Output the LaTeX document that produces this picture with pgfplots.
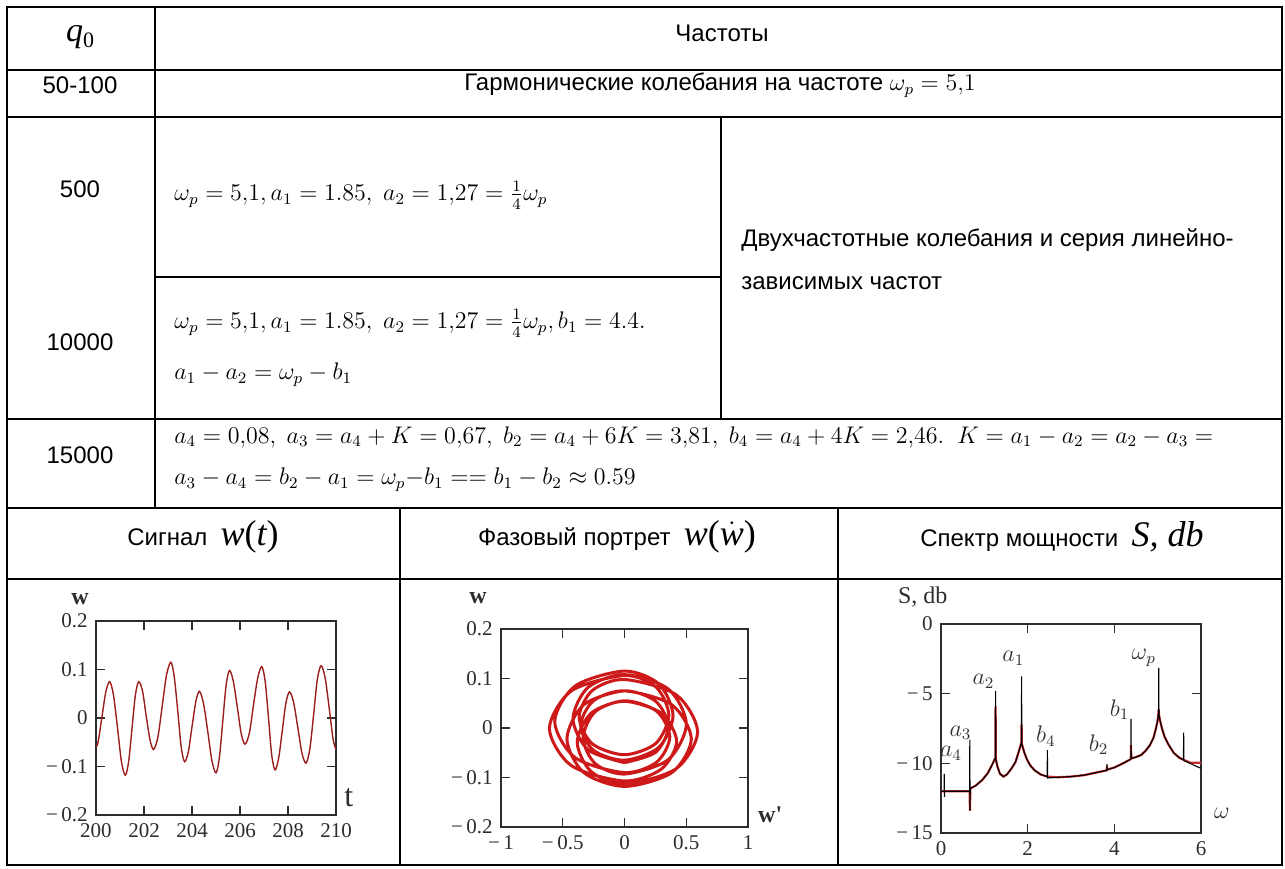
\documentclass[border=0pt]{standalone}
\usepackage{amsmath}
\usepackage{fontspec}
\setmainfont{Liberation Sans}
\newfontfamily\tnr{Liberation Serif}
\usepackage{pgfplots}
\pgfplotsset{compat=1.18}
\definecolor{sigred}{RGB}{155,30,30}
\definecolor{phred}{RGB}{205,25,25}
\definecolor{spred}{RGB}{200,45,45}
\definecolor{axgray}{RGB}{45,45,45}
\pgfplotsset{
  mcad/.style={
    scale only axis,
    clip mode=individual,
    axis line style={line width=0.6pt, axgray},
    tick style={line width=0.6pt, axgray},
    tick align=inside,
    xtick pos=both, ytick pos=both,
    major tick length=4.5pt,
    ticklabel style={font=\tnr\fontsize{10.5}{10.5}\selectfont, text=axgray},
  }
}
\newcommand{\hdrsize}{\fontsize{18}{18}\selectfont}
\begin{document}
\fontsize{12}{14}\selectfont
\begin{tikzpicture}
\begin{scope}[x=0.5pt, y=-0.5pt]
  \path[use as bounding box] (0,0) rectangle (1285,868);
  % table frame and rules
  \begin{scope}[line width=0.7pt]
    \draw (7,7) rectangle (1282,865);
    \draw (7,70) -- (1282,70);
    \draw (7,117) -- (1282,117);
    \draw (155,277) -- (721,277);
    \draw (7,419) -- (1282,419);
    \draw (7,508) -- (1282,508);
    \draw (7,579) -- (1282,579);
    \draw (155,7) -- (155,508);
    \draw (721,117) -- (721,419);
    \draw (400,508) -- (400,865);
    \draw (838,508) -- (838,865);
  \end{scope}
  % first column
  \node at (80,37) {{\tnr\itshape\fontsize{17}{17}\selectfont q}\raisebox{-3pt}{\tnr\fontsize{11}{11}\selectfont 0}};
  \node at (80,85) {50-100};
  \node at (80,189) {500};
  \node at (80,342) {10000};
  \node at (80,455) {15000};
  % right part
  \node at (722,33) {Частоты};
  \node at (720,85) {Гармонические колебания на частоте $\omega_p = 5{,}1$};
  \node[anchor=west] at (166,195) {$\omega_p = 5{,}1, a_1 = 1.85,\ a_2 = 1{,}27 = \tfrac{1}{4}\omega_p$};
  \node[anchor=west] at (733,240) {Двухчастотные колебания и серия линейно-};
  \node[anchor=west] at (733,283) {зависимых частот};
  \node[anchor=west] at (166,323) {$\omega_p = 5{,}1, a_1 = 1.85,\ a_2 = 1{,}27 = \tfrac{1}{4}\omega_p, b_1 = 4.4.$};
  \node[anchor=west] at (166,375) {$a_1 - a_2 = \omega_p - b_1$};
  \node[anchor=west] at (166,437) {\fontsize{11.8}{14}\selectfont$a_4 = 0{,}08,\ a_3 = a_4 + K = 0{,}67,\ b_2 = a_4 + 6K = 3{,}81,\ b_4 = a_4 + 4K = 2{,}46.\ \ K = a_1 - a_2 = a_2 - a_3 =$};
  \node[anchor=west] at (166,480) {\fontsize{11.8}{14}\selectfont$a_3 - a_4 = b_2 - a_1 = \omega_p{-}b_1 \mathrel{==} b_1 - b_2 \approx 0.59$};
  % plot headers
  \node at (203,537) {Сигнал\ \ {\tnr\hdrsize\itshape w\upshape(\itshape t\upshape)}};
  \node at (617,537) {Фазовый портрет\ \ {\tnr\hdrsize\itshape w\upshape($\dot{\mbox{\tnr\itshape w}}$)}};
  \node at (1062,537) {Спектр мощности\ \ {\tnr\hdrsize\itshape S, db}};
  \coordinate (A1) at (96,815);
  \coordinate (A2) at (501,827);
  \coordinate (A3) at (941,833);
\end{scope}

% signal w(t)
\begin{axis}[mcad, at={(A1)}, anchor=south west, width=120pt, height=97pt,
  xmin=200, xmax=210, ymin=-0.2, ymax=0.2,
  xtick={200,202,204,206,208,210}, xticklabels={200,202,204,206,208,210},
  ytick={-0.2,-0.1,0,0.1,0.2}, yticklabels={−\,0.2,−\,0.1,0,0.1,0.2}]
\addplot[sigred, line width=0.7pt, smooth] coordinates {
(200.00,-0.060) (200.09,-0.049) (200.25,0.003) (200.41,0.054) (200.57,0.075)
(200.73,0.047) (200.90,-0.022) (201.06,-0.090) (201.22,-0.118)
(201.36,-0.090) (201.50,-0.022) (201.64,0.047) (201.78,0.075)
(201.94,0.055) (202.09,0.005) (202.25,-0.045) (202.40,-0.065)
(202.58,-0.039) (202.76,0.025) (202.94,0.089) (203.12,0.115)
(203.26,0.085) (203.41,0.013) (203.55,-0.060) (203.69,-0.090)
(203.85,-0.069) (204.00,-0.018) (204.16,0.034) (204.31,0.055)
(204.48,0.030) (204.66,-0.029) (204.83,-0.088) (205.00,-0.113)
(205.14,-0.082) (205.28,-0.008) (205.42,0.067) (205.56,0.098)
(205.72,0.076) (205.89,0.022) (206.05,-0.032) (206.21,-0.054)
(206.39,-0.031) (206.56,0.026) (206.74,0.083) (206.91,0.106)
(207.05,0.075) (207.19,-0.001) (207.32,-0.076) (207.46,-0.107)
(207.61,-0.083) (207.76,-0.027) (207.91,0.030) (208.06,0.054)
(208.23,0.033) (208.41,-0.020) (208.58,-0.072) (208.75,-0.093)
(208.91,-0.064) (209.07,0.008) (209.22,0.079) (209.38,0.108)
(209.55,0.082) (209.72,0.019) (209.88,-0.044) (210.00,-0.065)
};
\node[font=\tnr\fontsize{12}{12}\selectfont\bfseries, text=axgray] at (rel axis cs:-0.067,1.115) {w};
\node[font=\tnr\fontsize{16}{16}\selectfont, anchor=west, text=axgray] at (rel axis cs:1.0,0.09) {t};
\end{axis}

% phase portrait
\begin{axis}[mcad, at={(A2)}, anchor=south west, width=123.5pt, height=99pt,
  xmin=-1, xmax=1, ymin=-0.2, ymax=0.2,
  xtick={-1,-0.5,0,0.5,1}, xticklabels={−\,1,−\,0.5,0,0.5,1},
  ytick={-0.2,-0.1,0,0.1,0.2}, yticklabels={−\,0.2,−\,0.1,0,0.1,0.2}]
\addplot[phred, line width=1.5pt, smooth] coordinates {
(0,-0.070) (0.252,-0.049) (0.356,0.003) (0.252,0.054)
(0,0.075) (-0.330,0.047) (-0.466,-0.022) (-0.330,-0.090)
(0,-0.118) (0.383,-0.090) (0.541,-0.022) (0.383,0.047)
(0,0.075) (-0.251,0.055) (-0.355,0.005) (-0.251,-0.045)
(0,-0.065) (0.278,-0.039) (0.393,0.025) (0.278,0.089)
(0,0.115) (-0.399,0.085) (-0.565,0.013) (-0.399,-0.060)
(0,-0.090) (0.260,-0.069) (0.367,-0.018) (0.260,0.034)
(0,0.055) (-0.270,0.030) (-0.383,-0.029) (-0.270,-0.088)
(0,-0.113) (0.419,-0.082) (0.592,-0.008) (0.419,0.067)
(0,0.098) (-0.260,0.076) (-0.367,0.022) (-0.260,-0.032)
(0,-0.054) (0.254,-0.031) (0.359,0.026) (0.254,0.083)
(0,0.106) (-0.430,0.075) (-0.608,-0.001) (-0.430,-0.076)
(0,-0.107) (0.298,-0.083) (0.422,-0.027) (0.298,0.030)
(0,0.054) (-0.237,0.033) (-0.335,-0.020) (-0.237,-0.072)
(0,-0.093) (0.354,-0.064) (0.501,0.008) (0.354,0.079)
(0,0.108) (-0.295,0.082) (-0.417,0.019) (-0.295,-0.044)
(0,-0.070)
};
\node[font=\tnr\fontsize{12}{12}\selectfont\bfseries, text=axgray] at (rel axis cs:-0.093,1.155) {w};
\node[font=\tnr\fontsize{12}{12}\selectfont\bfseries, text=axgray] at (rel axis cs:1.09,0.06) {w'};
\end{axis}

% power spectrum
\begin{axis}[mcad, at={(A3)}, anchor=south west, width=130pt, height=104.5pt,
  xmin=0, xmax=6, ymin=-15, ymax=0,
  xtick={0,2,4,6}, xticklabels={0,2,4,6},
  ytick={-15,-10,-5,0}, yticklabels={−\,15,−\,10,−\,5,0}]
\addplot[spred, line width=1.1pt] coordinates {
(0.00,-12.0) (0.66,-12.0) (0.665,-12.9) (0.67,-13.4) (0.675,-11.8)
(0.80,-11.6) (0.95,-11.2) (1.08,-10.7) (1.18,-10.1) (1.255,-9.6)
(1.26,-5.9) (1.265,-9.7) (1.30,-10.2) (1.36,-10.75) (1.44,-10.95)
(1.52,-10.8) (1.62,-10.4) (1.72,-9.9) (1.80,-9.1) (1.855,-8.5)
(1.86,-7.2) (1.865,-8.6) (1.92,-9.2) (1.98,-9.7) (2.06,-10.15)
(2.16,-10.5) (2.30,-10.8) (2.45,-10.95) (2.70,-11.0) (3.00,-10.95)
(3.30,-10.85) (3.60,-10.65) (3.825,-10.5) (3.83,-10.2) (3.835,-10.45)
(4.00,-10.3) (4.20,-10.0) (4.38,-9.7) (4.385,-8.7) (4.39,-9.65)
(4.50,-9.55) (4.62,-9.4) (4.72,-9.1) (4.82,-8.7) (4.90,-8.2)
(4.96,-7.5) (5.00,-6.9) (5.02,-6.3) (5.025,-6.1) (5.03,-6.5)
(5.06,-7.0) (5.10,-7.5) (5.16,-8.1) (5.24,-8.6) (5.37,-9.25)
(5.50,-9.6) (5.60,-9.75) (5.75,-9.95) (6.00,-9.95)
};
\addplot[black, line width=0.55pt] coordinates {
(0.00,-12.0) (0.07,-12.0) (0.075,-10.75) (0.08,-12.4) (0.085,-12.0)
(0.66,-12.0) (0.665,-8.3) (0.67,-13.4) (0.675,-11.8)
(0.80,-11.6) (0.95,-11.2) (1.08,-10.7) (1.18,-10.1) (1.255,-9.6)
(1.26,-4.8) (1.265,-9.7) (1.30,-10.2) (1.36,-10.75) (1.44,-10.95)
(1.52,-10.8) (1.62,-10.4) (1.72,-9.9) (1.80,-9.1) (1.855,-8.5)
(1.86,-3.75) (1.865,-8.6) (1.92,-9.2) (1.98,-9.7) (2.06,-10.15)
(2.16,-10.5) (2.30,-10.8) (2.45,-10.95) (2.455,-9.05) (2.46,-11.05)
(2.70,-11.0) (3.00,-10.95) (3.30,-10.85) (3.60,-10.65) (3.825,-10.5)
(3.83,-10.05) (3.835,-10.45) (4.00,-10.3) (4.20,-10.0) (4.38,-9.7)
(4.385,-6.8) (4.39,-9.65) (4.50,-9.55) (4.62,-9.4) (4.72,-9.1)
(4.82,-8.7) (4.90,-8.2) (4.96,-7.5) (5.00,-6.9) (5.02,-6.3)
(5.025,-3.15) (5.03,-6.5) (5.06,-7.0) (5.10,-7.5) (5.16,-8.1)
(5.24,-8.6) (5.37,-9.25) (5.50,-9.6) (5.595,-9.75) (5.60,-7.8)
(5.605,-9.8) (5.75,-10.0) (5.88,-10.2) (6.00,-10.35)
};
\begin{scope}[every node/.style={font=\fontsize{12}{12}\selectfont, text=black!80}]
\node at (axis cs:0.23,-9.3) {$a_4$};
\node at (axis cs:0.45,-7.8) {$a_3$};
\node at (axis cs:0.98,-4.1) {$a_2$};
\node at (axis cs:1.67,-2.45) {$a_1$};
\node at (axis cs:2.42,-8.05) {$b_4$};
\node at (axis cs:3.64,-8.65) {$b_2$};
\node at (axis cs:4.12,-6.15) {$b_1$};
\node at (axis cs:4.68,-2.45) {$\omega_p$};
\end{scope}
\node[font=\tnr\fontsize{12}{12}\selectfont, text=axgray] at (rel axis cs:-0.07,1.13) {S, db};
\node[font=\tnr\fontsize{13}{13}\selectfont, text=axgray] at (rel axis cs:1.08,0.095) {$\omega$};
\end{axis}
\end{tikzpicture}
\end{document}
